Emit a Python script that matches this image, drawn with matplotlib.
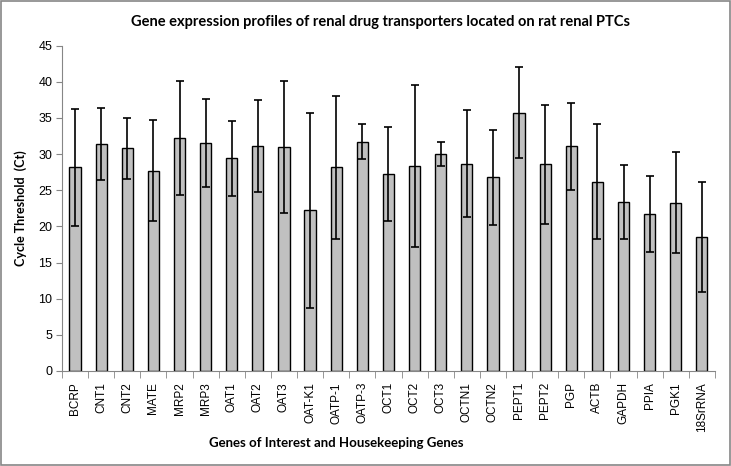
import matplotlib
matplotlib.use("Agg")
import matplotlib.pyplot as plt
import numpy as np

# Ct values
genes = ["BCRP", "CNT1", "CNT2", "MATE", "MRP2", "MRP3", "OAT1", "OAT2", "OAT3",
         "OAT-K1", "OATP-1", "OATP-3", "OCT1", "OCT2", "OCT3", "OCTN1", "OCTN2",
         "PEPT1", "PEPT2", "PGP", "ACTB", "GAPDH", "PPIA", "PGK1", "18SrRNA"]
mean_ct = [28.2, 31.4, 30.8, 27.7, 32.2, 31.5, 29.4, 31.1, 31.0,
           22.2, 28.2, 31.7, 27.2, 28.3, 30.0, 28.7, 26.8,
           35.7, 28.6, 31.1, 26.2, 23.4, 21.7, 23.3, 18.5]
sd_ct = [8.1, 5.0, 4.2, 7.0, 7.9, 6.1, 5.2, 6.4, 9.1,
         13.5, 9.9, 2.4, 6.5, 11.2, 1.7, 7.4, 6.6,
         6.3, 8.2, 6.0, 8.0, 5.1, 5.3, 7.0, 7.6]

fig = plt.figure(figsize=(7.31, 4.66), dpi=100)
ax = fig.add_axes([0.0848, 0.2039, 0.8932, 0.6981])

x = np.arange(len(genes))
ax.bar(x, mean_ct, width=0.43, color="#C0C0C0", edgecolor="black", linewidth=1.0,
       yerr=sd_ct, error_kw=dict(ecolor="black", elinewidth=1.2, capsize=3.2, capthick=1.2),
       zorder=2)

ax.set_xlim(-0.5, len(genes) - 0.5)
ax.set_ylim(0, 45)
ax.set_yticks(np.arange(0, 46, 5))
ax.tick_params(axis="y", direction="out", length=4, color="#868686", labelsize=9, pad=3)

ax.set_xticks(x)
ax.set_xticklabels(genes, rotation=90, fontsize=8.5, family="Liberation Sans")
ax.tick_params(axis="x", length=0, pad=8)
ax.set_xticks(np.arange(-0.5, len(genes), 1), minor=True)
ax.tick_params(axis="x", which="minor", direction="out", length=5, color="#868686")

for side in ["top", "right"]:
    ax.spines[side].set_visible(False)
for side in ["left", "bottom"]:
    ax.spines[side].set_color("#868686")

for lbl in ax.get_yticklabels():
    lbl.set_family("Liberation Sans")

ax.set_ylabel("Cycle Threshold  (Ct)", fontsize=9, fontweight="bold", family="Lato", labelpad=8)
fig.text(0.46, 0.05, "Genes of Interest and Housekeeping Genes", ha="center", va="center",
         fontsize=9.5, fontweight="bold", family="Lato")
fig.text(0.52, 0.953, "Gene expression profiles of renal drug transporters located on rat renal PTCs",
         ha="center", va="center", fontsize=10.5, fontweight="bold", family="Lato")

# chart border
fig.patches.append(plt.Rectangle((0.001, 0.002), 0.997, 0.996, transform=fig.transFigure,
                                 fill=False, edgecolor="#868686", linewidth=1.2))

fig.savefig("out.png", dpi=100)
